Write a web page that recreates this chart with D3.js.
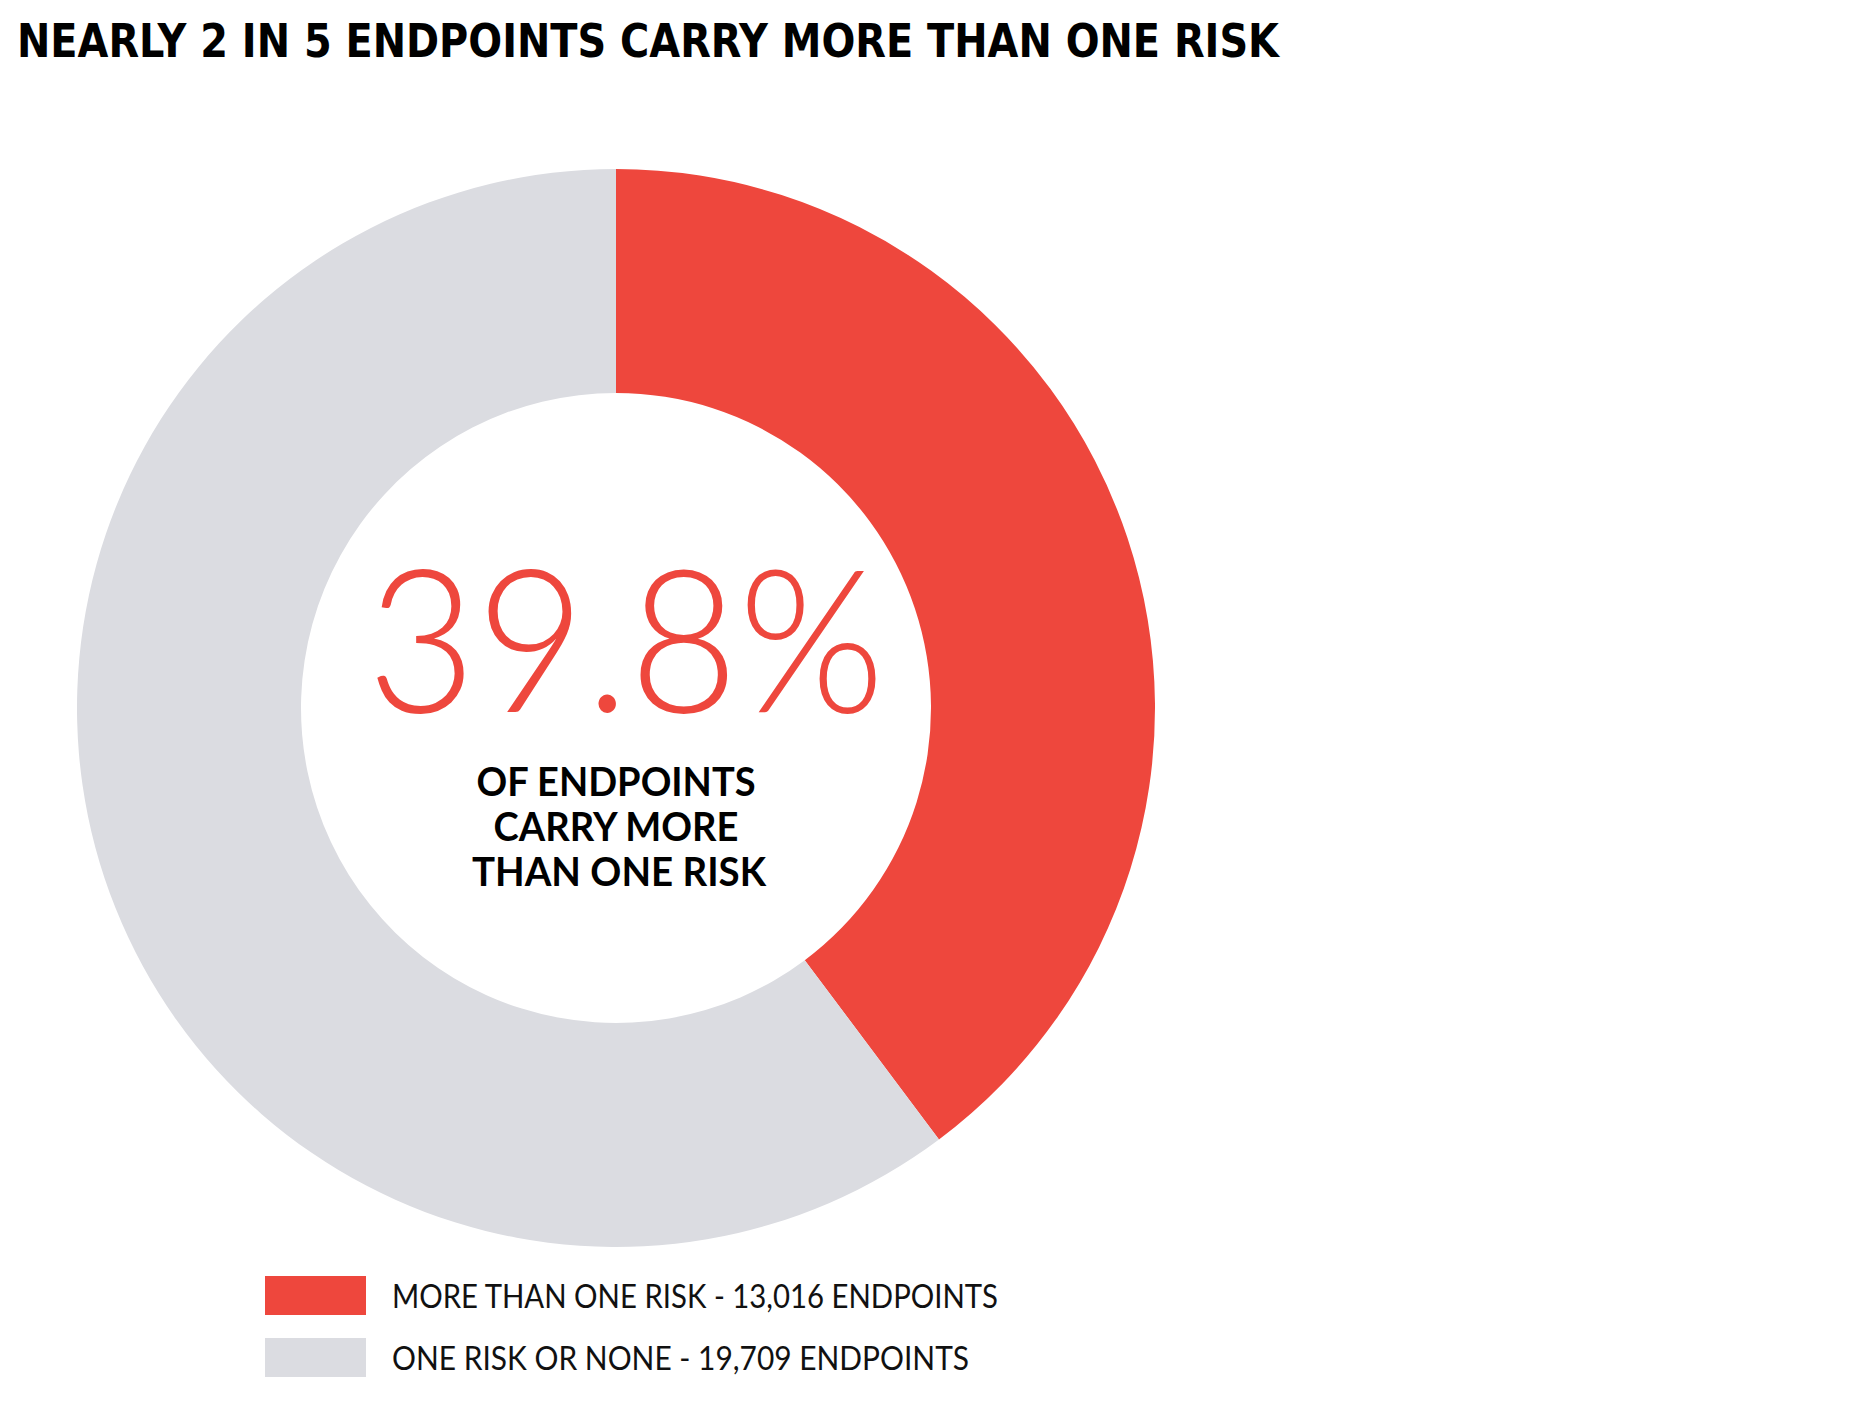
<!DOCTYPE html>
<html>
<head>
<meta charset="utf-8">
<script src="https://cdn.jsdelivr.net/npm/d3@7"></script>
<style>
  body { margin: 0; background: #fff; }
  svg { display: block; }
</style>
</head>
<body>
<svg id="chart" width="1873" height="1423"></svg>
<script>
// data
const categories = ["MORE THAN ONE RISK", "ONE RISK OR NONE"];
const endpoints = [13016, 19709];
const colors = ["#ee473d", "#dbdce1"];
const centerLines = ["OF ENDPOINTS", "CARRY MORE", "THAN ONE RISK"];

const svg = d3.select("#chart");
const cx = 616, cy = 708;
const outerR = 539, innerR = 315;

svg.append("text")
  .attr("x", 17)
  .attr("y", 57)
  .attr("textLength", 1262)
  .attr("lengthAdjust", "spacingAndGlyphs")
  .style("font-family", "'Liberation Sans Narrow', 'DejaVu Sans Condensed', 'DejaVu Sans', sans-serif")
  .style("font-weight", 700)
  .style("font-size", "46px")
  .style("fill", "#000")
  .text("NEARLY 2 IN 5 ENDPOINTS CARRY MORE THAN ONE RISK");

const pie = d3.pie().sort(null).value(d => d);
const arc = d3.arc().innerRadius(innerR).outerRadius(outerR);

const g = svg.append("g").attr("transform", `translate(${cx},${cy})`);

g.selectAll("path")
  .data(pie(endpoints))
  .join("path")
  .attr("d", arc)
  .attr("fill", (d, i) => colors[i]);

const total = d3.sum(endpoints);
const share = endpoints[0] / total;

g.append("text")
  .attr("x", 10)
  .attr("y", 4)
  .attr("text-anchor", "middle")
  .attr("textLength", 518)
  .attr("lengthAdjust", "spacingAndGlyphs")
  .style("font-family", "Lato, 'Noto Sans', sans-serif")
  .style("font-weight", 300)
  .style("font-size", "200px")
  .style("fill", colors[0])
  .text(d3.format(".1%")(share));

const lineWidths = [279, 245, 294];
g.selectAll("text.sub")
  .data(centerLines)
  .join("text")
  .attr("class", "sub")
  .attr("x", (d, i) => i === 2 ? 3 : 0)
  .attr("y", (d, i) => 88 + i * 45)
  .attr("text-anchor", "middle")
  .attr("textLength", (d, i) => lineWidths[i])
  .attr("lengthAdjust", "spacingAndGlyphs")
  .style("font-family", "Lato, 'Noto Sans', sans-serif")
  .style("font-weight", 700)
  .style("font-size", "40px")
  .style("fill", "#000")
  .text(d => d);

// legend
const legendW = [606, 577];
const legend = svg.append("g").attr("transform", "translate(265,1276)");
const item = legend.selectAll("g")
  .data(categories)
  .join("g")
  .attr("transform", (d, i) => `translate(0,${i * 62})`);

item.append("rect")
  .attr("width", 101)
  .attr("height", 39)
  .attr("fill", (d, i) => colors[i]);

item.append("text")
  .attr("x", 127)
  .attr("y", 32)
  .attr("textLength", (d, i) => legendW[i])
  .attr("lengthAdjust", "spacingAndGlyphs")
  .style("font-family", "Lato, 'Noto Sans', sans-serif")
  .style("font-weight", 400)
  .style("font-size", "33px")
  .style("fill", "#111")
  .text((d, i) => `${d} - ${d3.format(",")(endpoints[i])} ENDPOINTS`);
</script>
</body>
</html>
